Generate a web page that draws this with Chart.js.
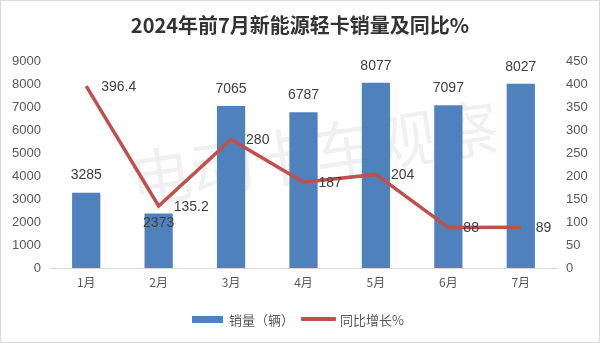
<!DOCTYPE html>
<html>
<head>
<meta charset="utf-8">
<script src="https://cdn.jsdelivr.net/npm/chart.js@4.4.1/dist/chart.umd.min.js"></script>
<style>
  html, body { margin: 0; padding: 0; background: #fff; }
  #wrap { position: relative; width: 600px; height: 343px; }
  #frame { position: absolute; inset: 0; border: 1px solid #d9d9d9; pointer-events: none; }
  #legend {
    position: absolute; left: 192px; top: 310px; height: 18px;
    display: flex; align-items: center;
    font: 13px 'Noto Sans CJK SC', sans-serif; color: #595959;
  }
  #legend .bar { width: 31px; height: 7px; margin-right: 6px; }
  #legend .line { width: 35px; height: 3.5px; margin-left: 7px; margin-right: 4px; border-radius: 1px; }
</style>
</head>
<body>
<div id="wrap">
  <canvas id="salesChart" width="600" height="343"></canvas>
  <div id="legend"></div>
  <div id="frame"></div>
</div>
<script>
// monthly sales of new-energy light trucks, Jan-Jul 2024
const months = ['1月', '2月', '3月', '4月', '5月', '6月', '7月'];
const sales = [3285, 2373, 7065, 6787, 8077, 7097, 8027];
const yoyGrowth = [396.4, 135.2, 280, 187, 204, 88, 89];

const salesAxisMax = 9000, salesAxisStep = 1000;
const yoyAxisMax = 450, yoyAxisStep = 50;

const BAR_COLOR = '#4f81bd';
const LINE_COLOR = '#c0504d';
const NUM_FONT = "'Liberation Sans', 'Noto Sans CJK SC', sans-serif";

// value labels + faint watermark
const labelsPlugin = {
    id: 'valueLabels',
    beforeDatasetsDraw(chart) {
        const ctx = chart.ctx;
        ctx.save();
        ctx.translate(314, 153);
        ctx.rotate(-8.5 * Math.PI / 180);
        ctx.font = "62px 'Noto Sans CJK SC'";
        ctx.fillStyle = 'rgba(0,0,0,0.06)';
        ctx.textAlign = 'center';
        ctx.textBaseline = 'middle';
        ctx.fillText('电动卡车观察', 0, 0);
        ctx.restore();
    },
    afterDatasetsDraw(chart) {
        const ctx = chart.ctx;
        ctx.save();
        ctx.font = '14px ' + NUM_FONT;
        ctx.fillStyle = '#404040';
        ctx.textBaseline = 'middle';

        const bars = chart.getDatasetMeta(1).data;
        ctx.textAlign = 'center';
        bars.forEach((el, i) => {
            // Feb label sits on the bar top so it stays clear of the line
            const y = i === 1 ? el.y + 10 : el.y - 17;
            ctx.fillText(String(sales[i]), el.x, y);
        });

        const pts = chart.getDatasetMeta(0).data;
        ctx.textAlign = 'left';
        pts.forEach((el, i) => {
            ctx.fillText(String(yoyGrowth[i]), el.x + 15, el.y + 1);
        });
        ctx.restore();
    }
};

const plainTick = value => String(value);

const chart = new Chart(document.getElementById('salesChart'), {
    type: 'bar',
    data: {
        labels: months,
        datasets: [{
            type: 'line',
            label: '同比增长%',
            data: yoyGrowth,
            yAxisID: 'y1',
            borderColor: LINE_COLOR,
            backgroundColor: LINE_COLOR,
            borderWidth: 3.5,
            pointRadius: 0,
            tension: 0,
            order: 0
        }, {
            label: '销量（辆）',
            data: sales,
            yAxisID: 'y',
            backgroundColor: BAR_COLOR,
            barPercentage: 0.39,
            categoryPercentage: 1,
            order: 1
        }]
    },
    options: {
        responsive: false,
        animation: false,
        layout: { padding: 0 },
        plugins: {
            legend: { display: false },
            tooltip: { enabled: false },
            title: {
                display: true,
                text: '2024年前7月新能源轻卡销量及同比%',
                color: '#333',
                font: { family: "'Noto Sans CJK SC', sans-serif", size: 20, weight: 'bold', lineHeight: 1.2 },
                padding: { top: 13, bottom: 24.5 }
            }
        },
        scales: {
            x: {
                grid: { display: false, drawTicks: false },
                border: { display: true, color: '#d9d9d9', width: 1 },
                ticks: { color: '#595959', font: { family: "'Noto Sans CJK SC', sans-serif", size: 12 }, padding: 7 },
                afterFit(scale) { scale.height = 75; }
            },
            y: {
                position: 'left',
                min: 0, max: salesAxisMax,
                grid: { display: false, drawTicks: false },
                border: { display: false },
                ticks: { stepSize: salesAxisStep, callback: plainTick, color: '#595959', font: { family: NUM_FONT, size: 13 }, padding: 9 },
                afterFit(scale) { scale.width = 50; }
            },
            y1: {
                position: 'right',
                min: 0, max: yoyAxisMax,
                grid: { display: false, drawTicks: false },
                border: { display: false },
                ticks: { stepSize: yoyAxisStep, callback: plainTick, color: '#595959', font: { family: NUM_FONT, size: 13 }, padding: 9 },
                afterFit(scale) { scale.width = 43; }
            }
        }
    },
    plugins: [labelsPlugin]
});

// legend under the chart
const legend = document.getElementById('legend');
const [lineSet, barSet] = chart.data.datasets;
legend.innerHTML =
    `<span class="bar" style="background:${barSet.backgroundColor}"></span><span>${barSet.label}</span>` +
    `<span class="line" style="background:${lineSet.borderColor}"></span><span>${lineSet.label}</span>`;
</script>
</body>
</html>
